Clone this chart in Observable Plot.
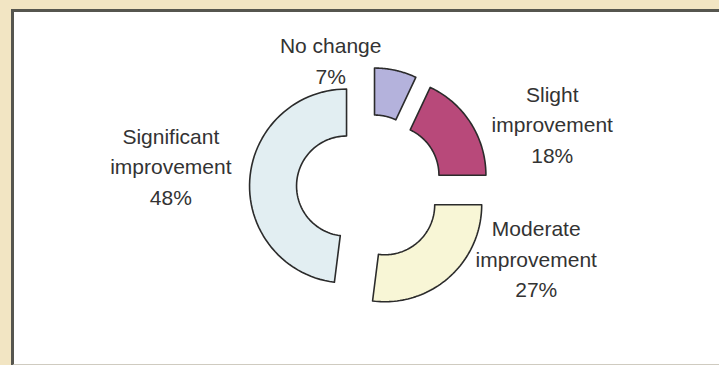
<!DOCTYPE html>
<html>
<head>
<meta charset="utf-8">
<script src="https://cdn.jsdelivr.net/npm/d3@7"></script>
<script src="https://cdn.jsdelivr.net/npm/@observablehq/plot@0.6"></script>
<style>
  html, body { margin: 0; padding: 0; }
  body { width: 719px; height: 365px; background: #f2e5c3; position: relative; overflow: hidden; }
  #panel { position: absolute; left: 11px; top: 9px; width: 720px; height: 352px; background: #fff;
           border-top: 3px solid #56564f; border-left: 3px solid #56564f; border-bottom: 2px solid #cfcbc0; }
  #chart { position: absolute; left: 0; top: 0; }
</style>
</head>
<body>
<div id="panel"></div>
<div id="chart"></div>
<script>
// ---- data ----
const categories = ["No change", "Slight improvement", "Moderate improvement", "Significant improvement"];
const labelLines = ["No change", "Slight\nimprovement", "Moderate\nimprovement", "Significant\nimprovement"];
const shares = [7, 18, 27, 48];
const colors = ["#b4b2dc", "#b8497a", "#f8f6d6", "#e2eef2"];

// ---- layout (not data) ----
const W = 719, H = 365;
const cx = 369, cy = 187;          // pie centre in pixels
const outerR = 97, innerR = 50, explode = 23, labelR = 175;
const nudges = [[-77, 42], [35, 29], [51, -62], [-24, -12]];

const pie = d3.pie().sort(null).value(d => d)(shares);

// arc outline points generated from the pie angles
const pts = [];
pie.forEach((p, i) => {
  const mid = (p.startAngle + p.endAngle) / 2;
  const ox = explode * Math.sin(mid), oy = explode * Math.cos(mid);
  const n = 60;
  for (let k = 0; k <= n; k++) {
    const a = p.startAngle + (p.endAngle - p.startAngle) * k / n;
    pts.push({cat: categories[i], color: colors[i], x: ox + outerR * Math.sin(a), y: oy + outerR * Math.cos(a)});
  }
  for (let k = n; k >= 0; k--) {
    const a = p.startAngle + (p.endAngle - p.startAngle) * k / n;
    pts.push({cat: categories[i], color: colors[i], x: ox + innerR * Math.sin(a), y: oy + innerR * Math.cos(a)});
  }
});

const labels = pie.map((p, i) => {
  const mid = (p.startAngle + p.endAngle) / 2;
  return {i, text: `${labelLines[i]}\n${shares[i]}%`, x: labelR * Math.sin(mid), y: labelR * Math.cos(mid)};
});

const marks = [
  Plot.line(pts, {x: "x", y: "y", z: "cat", fill: "color", stroke: "#2b2b2b", strokeWidth: 1.6, curve: "linear-closed"})
];
labels.forEach(l => {
  marks.push(Plot.text([l], {x: "x", y: "y", text: "text", dx: nudges[l.i][0], dy: nudges[l.i][1],
    fontSize: 21, lineHeight: 1.45, fill: "#333333", textAnchor: "middle",
    fontFamily: "Liberation Sans, Arial, sans-serif"}));
});

const chart = Plot.plot({
  width: W, height: H,
  margin: 0,
  style: {background: "transparent", fontFamily: "Liberation Sans, Arial, sans-serif"},
  x: {domain: [-cx, W - cx], axis: null},
  y: {domain: [-(H - cy), cy], axis: null},
  color: {type: "identity"},
  marks
});
document.getElementById("chart").appendChild(chart);
</script>
</body>
</html>
